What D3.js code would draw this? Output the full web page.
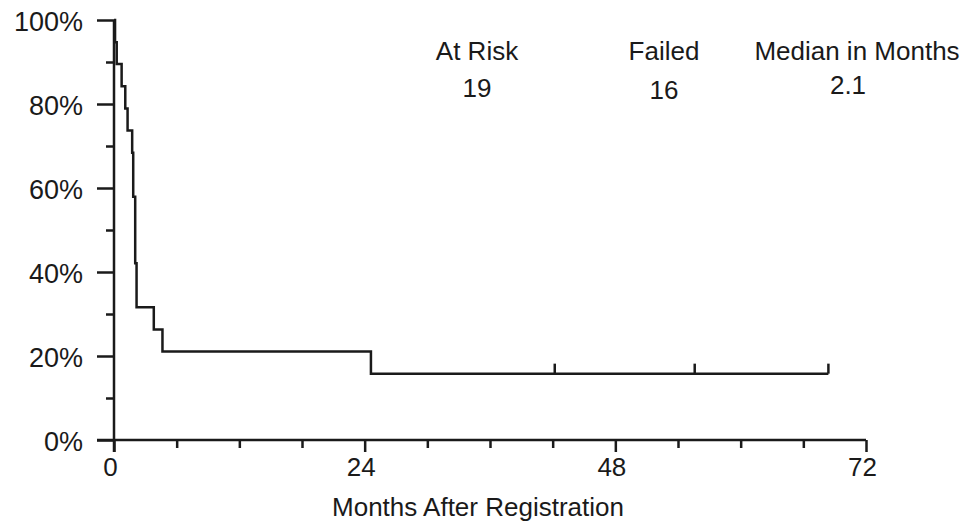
<!DOCTYPE html>
<html>
<head>
<meta charset="utf-8">
<script src="https://cdn.jsdelivr.net/npm/d3@7/dist/d3.min.js"></script>
<style>
  html, body { margin: 0; padding: 0; background: #fff; }
  svg { display: block; }
  text { font-family: "Liberation Sans", Arial, Helvetica, sans-serif; fill: #1a1a1a; }
</style>
</head>
<body>
<svg id="chart" width="971" height="531"></svg>
<script>
// ---- Data ----
const stepTimes    = [0, 0.1, 0.26, 0.73, 1.08, 1.30, 1.74, 1.84, 2.03, 2.16, 3.81, 4.64, 24.6, 68.4];
const stepSurvival = [100, 94.7, 89.5, 84.2, 78.9, 73.7, 68.4, 57.9, 42.1, 31.6, 26.3, 21.1, 15.8, 15.8];
const censorTimes  = [42.2, 55.6, 68.4];
const censorSurvival = [15.8, 15.8, 15.8];
const xMajorTicks  = [0, 24, 48, 72];
const xMinorTicks  = [6, 12, 18, 30, 36, 42, 54, 60, 66];
const yMajorTicks  = [0, 20, 40, 60, 80, 100];
const yMinorTicks  = [10, 30, 50, 70, 90];
const summaryHeaders = ["At Risk", "Failed", "Median in Months"];
const summaryValues  = ["19", "16", "2.1"];
const xTitle = "Months After Registration";

// ---- Layout ----
const svg = d3.select("#chart");
const x = d3.scaleLinear().domain([0, 72]).range([114, 866]);
const y = d3.scaleLinear().domain([0, 100]).range([440, 20]);
const ink = "#1a1a1a";
const fontSize = 26;

// axis lines (cross at origin)
svg.append("line").attr("x1", x(0) - 17).attr("x2", x(72))
  .attr("y1", y(0)).attr("y2", y(0)).attr("stroke", ink).attr("stroke-width", 2.5);
svg.append("line").attr("x1", x(0)).attr("x2", x(0))
  .attr("y1", y(100)).attr("y2", y(0) + 12).attr("stroke", ink).attr("stroke-width", 2.5);

// x axis major
const gxMaj = svg.append("g").attr("transform", `translate(0,${y(0)})`)
  .call(d3.axisBottom(x).tickValues(xMajorTicks).tickSize(12).tickPadding(6).tickFormat(d3.format("d")));
// x axis minor
const gxMin = svg.append("g").attr("transform", `translate(0,${y(0)})`)
  .call(d3.axisBottom(x).tickValues(xMinorTicks).tickSize(8).tickFormat(""));
// y axis major
const gyMaj = svg.append("g").attr("transform", `translate(${x(0)},0)`)
  .call(d3.axisLeft(y).tickValues(yMajorTicks).tickSize(17).tickPadding(14).tickFormat(d => d + "%"));
const gyMin = svg.append("g").attr("transform", `translate(${x(0)},0)`)
  .call(d3.axisLeft(y).tickValues(yMinorTicks).tickSize(8).tickFormat(""));

[gxMaj, gxMin, gyMaj, gyMin].forEach(g => {
  g.select(".domain").remove();
  g.selectAll(".tick line").attr("stroke", ink).attr("stroke-width", 2.5);
  g.selectAll(".tick text").attr("font-size", fontSize).attr("fill", ink)
    .style("font-family", '"Liberation Sans", Arial, sans-serif');
});
gxMaj.selectAll(".tick text").attr("dx", -4);
gyMaj.selectAll(".tick text").attr("font-size", 27).attr("dy", "0.4em");

// x title
svg.append("text").attr("x", 478).attr("y", 516).attr("text-anchor", "middle")
  .attr("font-size", fontSize).text(xTitle);

// KM curve
const pts = stepTimes.map((t, i) => [t, stepSurvival[i]]);
svg.append("path")
  .attr("d", d3.line().x(d => x(d[0])).y(d => y(d[1])).curve(d3.curveStepAfter)(pts))
  .attr("fill", "none").attr("stroke", ink).attr("stroke-width", 2.5);

// censor marks
svg.selectAll(".censor").data(censorTimes).enter().append("line")
  .attr("class", "censor")
  .attr("x1", d => x(d)).attr("x2", d => x(d))
  .attr("y1", (d, i) => y(censorSurvival[i]))
  .attr("y2", (d, i) => y(censorSurvival[i]) - 10)
  .attr("stroke", ink).attr("stroke-width", 2.5);

// summary text
const headerX = [477, 664, 857];
const valueX  = [477, 664, 848];
svg.selectAll(".hdr").data(summaryHeaders).enter().append("text")
  .attr("class", "hdr").attr("x", (d, i) => headerX[i]).attr("y", 60)
  .attr("text-anchor", "middle").attr("font-size", fontSize).text(d => d);
svg.selectAll(".val").data(summaryValues).enter().append("text")
  .attr("class", "val").attr("x", (d, i) => valueX[i]).attr("y", (d, i) => [97, 99, 94][i])
  .attr("text-anchor", "middle").attr("font-size", fontSize).text(d => d);
</script>
</body>
</html>
